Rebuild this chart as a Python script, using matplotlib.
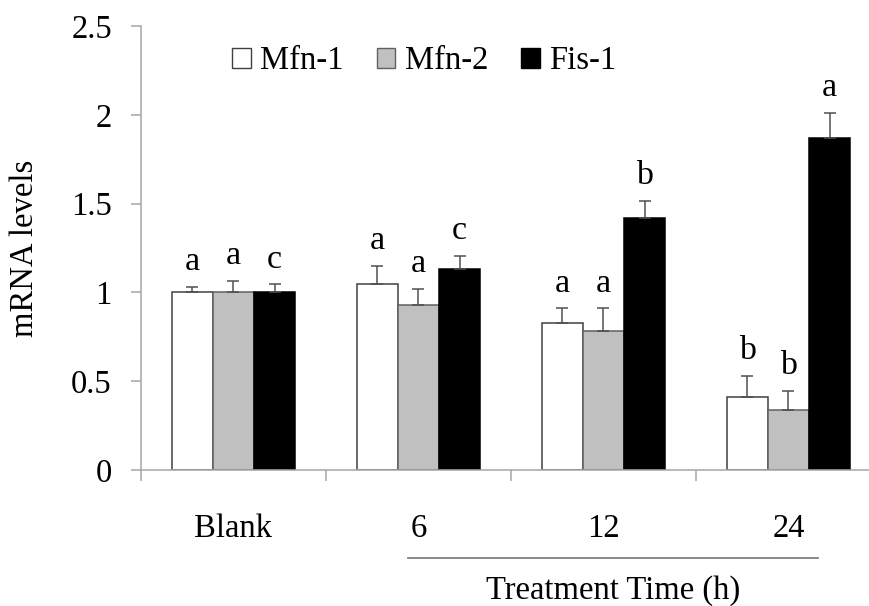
import numpy as np
import matplotlib.pyplot as plt
from matplotlib.patches import Patch

plt.rcParams['font.family'] = ['Liberation Serif', 'DejaVu Serif']

categories = ['Blank', '6', '12', '24']
series = ['Mfn-1', 'Mfn-2', 'Fis-1']

mfn1 = [1.00, 1.05, 0.83, 0.41]
mfn1_err = [0.03, 0.10, 0.08, 0.12]
mfn2 = [1.00, 0.93, 0.78, 0.34]
mfn2_err = [0.065, 0.09, 0.13, 0.105]
fis1 = [1.00, 1.13, 1.42, 1.87]
fis1_err = [0.045, 0.075, 0.095, 0.14]

mfn1_sig = ['a', 'a', 'a', 'b']
mfn2_sig = ['a', 'a', 'a', 'b']
fis1_sig = ['c', 'c', 'b', 'a']

colors = ['white', '#c0c0c0', 'black']
edges = ['#404040', '#606060', 'black']
axis_grey = '#a6a6a6'
fs = 23.5

fig = plt.figure(figsize=(8.7, 6.06), dpi=100)
# axes spans past the right edge like the original
ax = fig.add_axes([141 / 870, 136 / 606, 740 / 870, 444 / 606])

x = np.arange(len(categories))
w = 0.222
vals = [mfn1, mfn2, fis1]
errs = [mfn1_err, mfn2_err, fis1_err]
sigs = [mfn1_sig, mfn2_sig, fis1_sig]

for i in range(3):
    pos = x + (i - 1) * w
    ax.bar(pos, vals[i], w, color=colors[i], edgecolor=edges[i], linewidth=1.1, zorder=2)
    ax.errorbar(pos, vals[i], yerr=[np.zeros(4), errs[i]], fmt='none',
                ecolor='#505050', elinewidth=1.1, capsize=4, capthick=1.1, zorder=3)
    for p, v, e, s in zip(pos, vals[i], errs[i], sigs[i]):
        ax.annotate(s, (p, v + e), xytext=(0, 12), textcoords='offset points',
                    ha='center', va='baseline', fontsize=fs + 1)

ax.set_xlim(-0.5, 3.5)
ax.set_ylim(0, 2.5)
ax.set_yticks([0, 0.5, 1, 1.5, 2, 2.5])
ax.set_yticklabels(['0', '0.5', '1', '1.5', '2', '2.5'])
ax.set_xticks(x)
ax.set_xticklabels(categories)
ax.set_xticks(np.arange(-0.5, 4.0, 1), minor=True)
ax.tick_params(axis='x', which='major', length=0, pad=31, labelsize=fs)
ax.tick_params(axis='x', which='minor', length=8, width=1.1, color=axis_grey, direction='out')
ax.tick_params(axis='y', length=7, width=1.1, color=axis_grey, pad=14, labelsize=fs)

for s in ['top', 'right']:
    ax.spines[s].set_visible(False)
for s in ['left', 'bottom']:
    ax.spines[s].set_color(axis_grey)
    ax.spines[s].set_linewidth(1.1)

fig.text(25 / 870, 1 - 248 / 606, 'mRNA levels', rotation=90, ha='center', va='center', fontsize=fs)

# bracket line and label under the treatment groups
fig.add_artist(plt.Line2D([408 / 870, 818 / 870], [1 - 558 / 606, 1 - 558 / 606],
                          color='#808080', linewidth=1.3))
fig.text(613 / 870, 1 - 591 / 606, 'Treatment Time (h)', ha='center', va='center', fontsize=fs)

handles = [Patch(facecolor=colors[i], edgecolor=edges[i], linewidth=1.0, label=series[i]) for i in range(3)]
fig.legend(handles=handles, loc='center left', bbox_to_anchor=(232 / 870, 1 - 61 / 606),
           ncol=3, frameon=False, fontsize=fs, handlelength=0.57, handleheight=0.57,
           handletextpad=0.3, columnspacing=1.0, borderpad=0, borderaxespad=0)

fig.savefig('out.png', dpi=100)
